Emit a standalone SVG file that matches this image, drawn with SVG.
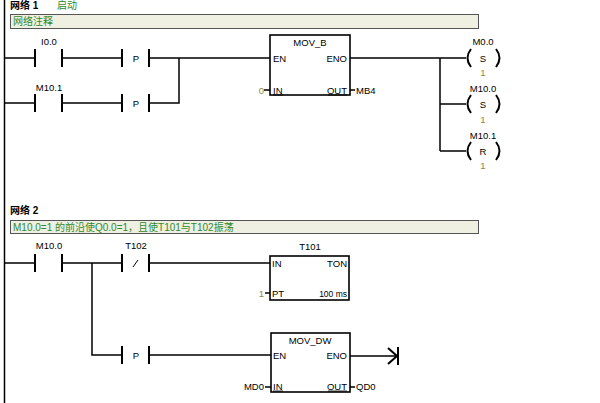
<svg xmlns="http://www.w3.org/2000/svg" width="600" height="403" viewBox="0 0 600 403">
<style>
.w{stroke:#000;stroke-width:1.5;fill:none}
.b{stroke:#000;stroke-width:2;fill:none}
.box{stroke:#000;stroke-width:1.6;fill:#fff}
.t{font-family:"Liberation Sans","Noto Sans CJK SC",sans-serif;font-size:9.5px;fill:#000}
.s{font-size:8.5px}
.g{fill:#2f8a2f;font-size:10px}
.o{fill:#8a8a40}
.h{font-family:"Liberation Sans","Noto Sans CJK SC",sans-serif;font-size:10px;font-weight:bold;fill:#000}
.cm{fill:#efefe2;stroke:#555;stroke-width:1}
.m{text-anchor:middle}
.e{text-anchor:end}
</style>
<rect width="600" height="403" fill="#fff"/>
<line x1="4.5" y1="0" x2="4.5" y2="403" stroke="#000" stroke-width="1.5"/>

<g id="header1">
<text class="h" x="10" y="9">网络 1</text>
<text class="t g" x="57" y="9">启动</text>
<rect class="cm" x="10.5" y="14.5" width="468" height="14"/>
<text class="t g" x="13" y="25">网络注释</text>
</g>

<g id="header2">
<text class="h" x="10" y="214">网络 2</text>
<rect class="cm" x="10.5" y="220.5" width="468" height="13"/>
<text class="t g" x="13" y="231">M10.0=1 的前沿使Q0.0=1，且使T101与T102振荡</text>
</g>

<g id="connectors">
<path class="w" d="M5,58 H35 M62,58 H122 M149,58 H270"/>
<path class="w" d="M5,103 H35 M62,103 H122 M149,103 H179 V58"/>
<path class="w" d="M350,58 H466 M440,58 V151 M440,104 H466 M440,151 H466"/>
<path class="w" d="M264,90 H270 M350,90 H355"/>
<path class="w" d="M5,263 H35 M62,263 H122 M149,263 H270"/>
<path class="w" d="M92,263 V355 H122 M149,355 H271"/>
<path class="w" d="M265,293 H270"/>
<path class="w" d="M350,356 H397"/>
<path class="w" d="M265,387 H271 M350,387 H355"/>
</g>

<g id="I0.0">
<path class="b" d="M35,49 V67 M62,49 V67"/>
<text class="t m" x="49" y="45">I0.0</text>
</g>
<g id="P1">
<path class="b" d="M122,49 V67 M149,49 V67"/>
<text class="t m" x="136" y="62">P</text>
</g>
<g id="M10.1c">
<path class="b" d="M35,94 V112 M62,94 V112"/>
<text class="t m" x="49" y="91">M10.1</text>
</g>
<g id="P2">
<path class="b" d="M122,94 V112 M149,94 V112"/>
<text class="t m" x="136" y="107">P</text>
</g>

<g id="MOV_B">
<rect class="box" x="270" y="35" width="80" height="60"/>
<text class="t m" x="310" y="46">MOV_B</text>
<text class="t" x="273" y="62">EN</text>
<text class="t e" x="347" y="62">ENO</text>
<text class="t" x="273" y="94">IN</text>
<text class="t e" x="347" y="94">OUT</text>
<line x1="273" y1="95" x2="283" y2="95" stroke="#000" stroke-width="0.8"/>
<line x1="328" y1="95" x2="347" y2="95" stroke="#000" stroke-width="0.8"/>
<text class="t o e" x="264" y="94">0</text>
<text class="t" x="356" y="94">MB4</text>
</g>

<g id="M0.0">
<path class="b" d="M471,49 Q464,58 471,67 M496,49 Q503,58 496,67"/>
<text class="t m" x="483" y="45">M0.0</text>
<text class="t m" x="483" y="62">S</text>
<text class="t o m" x="483" y="76">1</text>
</g>
<g id="M10.0">
<path class="b" d="M471,95 Q464,104 471,113 M496,95 Q503,104 496,113"/>
<text class="t m" x="483" y="92">M10.0</text>
<text class="t m" x="483" y="108">S</text>
<text class="t o m" x="483" y="123">1</text>
</g>
<g id="M10.1">
<path class="b" d="M471,142 Q464,151 471,160 M496,142 Q503,151 496,160"/>
<text class="t m" x="483" y="139">M10.1</text>
<text class="t m" x="483" y="155">R</text>
<text class="t o m" x="483" y="169">1</text>
</g>

<g id="M10.0c">
<path class="b" d="M35,254 V272 M62,254 V272"/>
<text class="t m" x="49" y="249">M10.0</text>
</g>
<g id="T102">
<path class="b" d="M122,254 V272 M149,254 V272"/>
<line x1="133" y1="267" x2="138" y2="260" stroke="#000" stroke-width="1"/>
<text class="t m" x="136" y="249">T102</text>
</g>

<g id="T101">
<rect class="box" x="270" y="256" width="79" height="44"/>
<text class="t m" x="310" y="250">T101</text>
<text class="t" x="272" y="267">IN</text>
<text class="t e" x="347" y="267">TON</text>
<text class="t" x="272" y="297">PT</text>
<text class="t s e" x="347" y="297">100 ms</text>
<text class="t o e" x="264" y="297">1</text>
</g>

<g id="P3">
<path class="b" d="M122,346 V364 M149,346 V364"/>
<text class="t m" x="136" y="359">P</text>
</g>

<g id="MOV_DW">
<rect class="box" x="271" y="333" width="79" height="59"/>
<text class="t m" x="310" y="344">MOV_DW</text>
<text class="t" x="273" y="359">EN</text>
<text class="t e" x="347" y="359">ENO</text>
<text class="t" x="273" y="390">IN</text>
<text class="t e" x="347" y="390">OUT</text>
<line x1="273" y1="391" x2="283" y2="391" stroke="#000" stroke-width="0.8"/>
<line x1="328" y1="391" x2="347" y2="391" stroke="#000" stroke-width="0.8"/>
<text class="t e" x="264" y="390">MD0</text>
<text class="t" x="356" y="390">QD0</text>
</g>

<g id="end">
<path class="b" d="M388,348 L397,356 L388,364 M398,347 V365"/>
</g>
</svg>
